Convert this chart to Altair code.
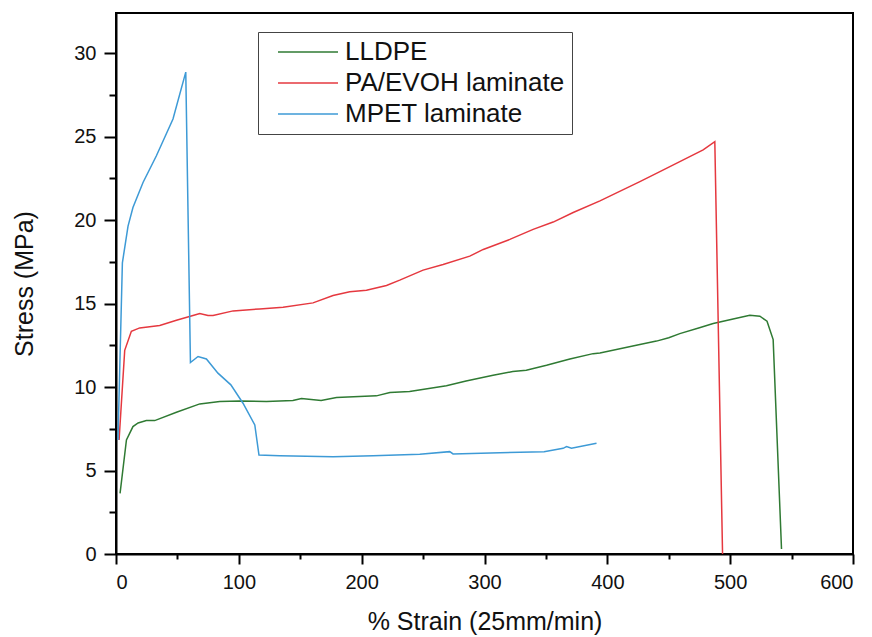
import altair as alt
import pandas as pd

series_names = ["LLDPE", "PA/EVOH laminate", "MPET laminate"]
series_colors = ["#2f7a33", "#e5383f", "#3d9ad6"]

lldpe_x = [3.3, 8.5, 13.8, 18, 24.7, 31.5, 49.2, 68.2, 84.5, 100.7, 122.5, 144, 151, 167, 179.5,
           212, 223, 239, 269, 285, 307, 323, 334, 350.5, 369.5, 388.4, 394, 426.5, 440, 450,
           459, 475, 486.2, 502.4, 516, 524.2, 530, 535, 541.8]
lldpe_y = [3.63, 6.83, 7.63, 7.85, 7.99, 7.99, 8.49, 8.99, 9.13, 9.17, 9.13, 9.19, 9.31, 9.19, 9.37,
           9.47, 9.67, 9.73, 10.08, 10.36, 10.7, 10.93, 11.0, 11.3, 11.68, 12.0, 12.04, 12.55, 12.75, 12.95,
           13.2, 13.55, 13.8, 14.08, 14.3, 14.24, 13.94, 12.84, 0.3]

paevoh_x = [2.5, 7.1, 12.5, 19.3, 35.6, 49.2, 65.5, 68.2, 74.9, 79, 95.3, 117, 136, 160.4, 176.7,
            190.3, 203.9, 220.2, 231, 250, 266.3, 288, 299, 320.6, 339.6, 355.9, 372.2, 394,
            426.5, 442.8, 459, 478, 487.5, 493.8]
paevoh_y = [6.83, 12.2, 13.34, 13.54, 13.68, 14.0, 14.34, 14.4, 14.28, 14.28, 14.56, 14.68, 14.78,
            15.04, 15.48, 15.7, 15.8, 16.08, 16.4, 17.0, 17.34, 17.84, 18.24, 18.84, 19.44, 19.88,
            20.45, 21.15, 22.3, 22.9, 23.5, 24.2, 24.69, 0.0]

mpet_x = [1.6, 5.2, 9.8, 13.8, 22, 32.9, 46.4, 56.8, 60.6, 66.8, 73.6, 83, 93.5, 103.4, 113, 116.4,
          133.3, 176.7, 209.3, 247.3, 271.7, 274.4, 312.5, 348.5, 364, 366.8, 370.8, 391.2]
mpet_y = [6.83, 17.44, 19.64, 20.75, 22.25, 23.85, 26.05, 28.86, 11.47, 11.83, 11.68, 10.83, 10.13,
          9.03, 7.73, 5.93, 5.89, 5.83, 5.89, 5.98, 6.13, 5.99, 6.07, 6.13, 6.33, 6.43, 6.33, 6.63]

x_tick_values = list(range(0, 601, 50))
y_tick_values = [i * 2.5 for i in range(13)]

rows = []
for name, xs, ys in zip(series_names, [lldpe_x, paevoh_x, mpet_x], [lldpe_y, paevoh_y, mpet_y]):
    for i, (xv, yv) in enumerate(zip(xs, ys)):
        rows.append({"series": name, "strain": xv, "stress": yv, "order": i})
df = pd.DataFrame(rows)

FONT = "Liberation Sans"

x_axis = alt.Axis(
    values=x_tick_values,
    title="% Strain (25mm/min)",
    labelExpr="datum.value % 100 === 0 ? datum.label : ''",
    tickSize={"condition": {"test": "datum.value % 100 === 0", "value": 10}, "value": 5},
    grid=False, domainColor="black", domainWidth=2, tickColor="black", tickWidth=2,
    labelFont=FONT, labelFontSize=20, labelColor="#111", labelPadding=8,
    titleFont=FONT, titleFontSize=25, titleFontWeight="normal", titleColor="#111", titlePadding=17,
)
y_axis = alt.Axis(
    values=y_tick_values,
    title="Stress (MPa)",
    labelExpr="datum.value % 5 === 0 ? datum.label : ''",
    tickSize={"condition": {"test": "datum.value % 5 === 0", "value": 12}, "value": 7},
    grid=False, domainColor="black", domainWidth=2, tickColor="black", tickWidth=2,
    labelFont=FONT, labelFontSize=20, labelColor="#111", labelPadding=8,
    titleFont=FONT, titleFontSize=25, titleFontWeight="normal", titleColor="#111", titlePadding=36,
)

legend = alt.Legend(
    title=None, orient="none", legendX=142, legendY=19, direction="vertical",
    symbolType="M0,0H6", symbolSize=400, symbolStrokeWidth=1.5,
    labelFont=FONT, labelFontSize=26, labelColor="#111", labelOffset=54, labelLimit=400,
    strokeColor="#444", fillColor="white", padding=7, rowPadding=5,
)

chart = alt.Chart(df).mark_line(strokeWidth=1.5).encode(
    x=alt.X("strain:Q", scale=alt.Scale(domain=[0, 600], nice=False, zero=False), axis=x_axis),
    y=alt.Y("stress:Q", scale=alt.Scale(domain=[0, 32.4], nice=False, zero=False), axis=y_axis),
    color=alt.Color("series:N", scale=alt.Scale(domain=series_names, range=series_colors), legend=legend),
    order="order:Q",
).properties(
    width=737, height=541,
    autosize=alt.AutoSizeParams(type="none"),
    padding={"left": 116, "top": 13, "right": 19, "bottom": 83},
    background="white",
).configure_view(stroke="black", strokeWidth=2)

chart.save("out.html", embed_options={"renderer": "svg", "actions": False})
